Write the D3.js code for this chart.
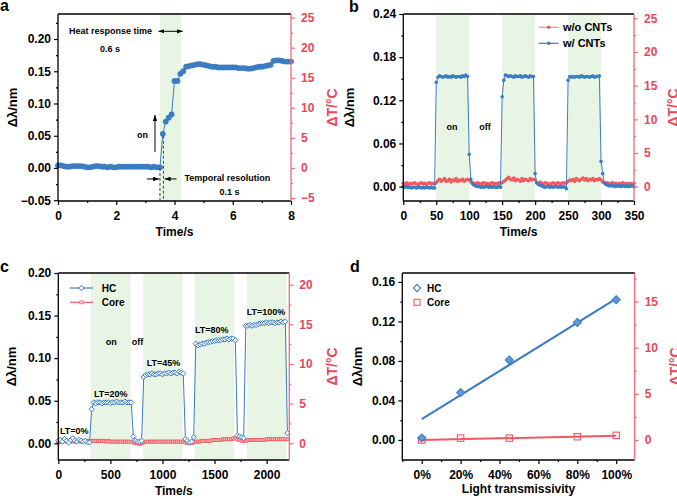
<!DOCTYPE html>
<html><head><meta charset="utf-8">
<script src="https://cdn.jsdelivr.net/npm/d3@7"></script>
<style>
body{margin:0;background:#fff;}
svg text{font-family:"Liberation Sans",Arial,Helvetica,sans-serif;font-weight:bold;}
</style></head><body>
<div id="chart"></div>
<script>
// ---- panel a : heat response, 0.1 s sampling
var aStep = 0.1;
var aShift = [0.004,0.004,0.003,0.002,0.002,0.003,0.003,0.003,0.003,0.002,
  0.001,0.001,0.002,0.003,0.003,0.002,0.002,0.001,0.002,0.001,
  0.001,0.002,0.002,0.002,0.002,0.002,0.002,0.002,0.002,0.002,
  0.002,0.002,0.001,0.002,0.001,0.001,
  0.053,0.072,0.078,0.083,0.135,0.135,0.146,0.150,0.157,0.158,
  0.159,0.160,0.161,0.161,0.160,0.159,0.158,0.157,0.157,0.156,
  0.156,0.156,0.156,0.156,0.156,0.156,0.155,0.155,0.155,0.154,
  0.154,0.155,0.156,0.157,0.157,0.158,0.159,0.160,0.166,0.167,
  0.167,0.166,0.165,0.165,0.165];
var aBand = [[3.5,4.22]];
var aXTicks = [0,2,4,6,8], aXMinor = [1,3,5,7];
var aYTicks = [-0.05,0,0.05,0.10,0.15,0.20], aYMinor = [-0.025,0.025,0.075,0.125,0.175,0.225];
var aRTicks = [-5,0,5,10,15,20,25], aRMinor = [-2.5,2.5,7.5,12.5,17.5,22.5];

// ---- panel b : on/off cycles, 2.5 s sampling
var bStep = 2.5;
var bWith = [0.000,-0.001,0.000,-0.001,-0.001,-0.002,-0.001,-0.001,-0.002,-0.001,
  -0.001,-0.002,-0.001,-0.002,-0.001,-0.001,-0.002,-0.001,-0.002,-0.002,
  0.145,0.152,
  0.154,0.153,0.152,0.153,0.154,0.152,0.153,0.152,0.154,0.153,0.152,0.153,0.153,0.152,0.154,0.153,0.155,0.153,
  0.045,0.010,0.004,0.002,
  0.001,0.000,0.000,-0.001,0.000,-0.001,0.000,0.000,-0.001,0.000,-0.001,0.000,-0.001,-0.001,0.000,-0.001,
  0.125,0.148,
  0.155,0.154,0.153,0.154,0.153,0.152,0.154,0.153,0.153,0.154,0.152,0.153,0.154,0.153,0.152,0.154,0.153,0.153,
  0.018,0.005,0.003,0.002,
  0.001,0.000,-0.001,0.000,0.000,-0.001,0.000,-0.001,0.000,0.000,-0.001,0.000,-0.001,0.000,-0.001,-0.003,
  0.148,0.153,
  0.152,0.153,0.152,0.153,0.153,0.152,0.154,0.153,0.152,0.153,0.153,0.152,0.153,0.154,0.152,0.153,0.153,0.154,
  0.035,0.018,0.005,0.003,
  0.002,0.001,0.002,0.001,0.001,0.000,0.001,0.001,0.000,0.001,0.001,0.000,0.001,0.000,0.001,0.001,0.000];
var bWithout = [0.5,0.4,0.6,0.3,0.5,0.4,0.5,0.6,0.4,0.3,0.5,0.6,0.4,0.5,0.3,0.5,0.6,0.4,0.5,0.4,
  0.6,0.9,1.1,0.8,1.0,1.2,0.8,0.9,1.1,0.7,1.0,0.9,1.2,0.8,1.0,0.9,1.1,0.8,1.0,1.1,
  1.0,0.7,0.6,0.5,0.4,0.6,0.5,0.4,0.5,0.6,0.4,0.5,0.3,0.5,0.6,0.4,0.5,0.4,0.6,0.5,
  0.6,0.8,1.0,1.2,1.4,1.1,1.0,1.3,0.9,1.1,1.0,0.8,1.2,0.9,1.1,1.0,0.9,1.2,1.0,1.1,
  1.0,0.6,0.5,0.7,0.5,0.4,0.6,0.5,0.4,0.3,0.5,0.6,0.4,0.5,0.6,0.4,0.5,0.6,0.5,0.6,
  0.8,1.0,0.9,1.1,0.8,1.2,1.0,0.9,1.1,1.3,1.0,1.2,0.9,1.1,1.0,1.2,0.9,1.1,1.0,1.2,
  1.0,0.7,0.6,0.5,0.6,0.4,0.5,0.6,0.4,0.5,0.3,0.5,0.4,0.6,0.5,0.4,0.5,0.3,0.5,0.4,0.5];
var bBands = [[50,100],[150,200],[250,300]];
var bXTicks = [0,50,100,150,200,250,300,350], bXMinor = [25,75,125,175,225,275,325];
var bYTicks = [0,0.06,0.12,0.18,0.24], bYMinor = [0.03,0.09,0.15,0.21];
var bRTicks = [0,5,10,15,20,25], bRMinor = [2.5,7.5,12.5,17.5,22.5];

// ---- panel c : light transmissivity steps, 20 s sampling
var cStep = 20;
var cHC = [0.003,0.004,0.002,0.005,0.003,0.001,0.004,0.006,0.003,0.002,0.004,0.003,0.002,0.003,0.001,0.001,
  0.040,
  0.048,0.047,0.048,0.048,0.047,0.048,0.048,0.048,0.047,0.048,0.048,0.049,0.048,0.048,0.048,0.049,0.048,0.048,
  0.048,
  0.008,0.003,0.002,0.002,0.003,
  0.078,
  0.080,0.081,0.081,0.082,0.081,0.081,0.082,0.082,0.081,0.082,0.082,0.083,0.082,0.083,0.083,0.082,0.084,0.083,
  0.082,
  0.005,0.003,0.001,0.002,
  0.007,
  0.117,
  0.115,0.116,0.117,0.117,0.118,0.119,0.119,0.120,0.120,0.121,0.121,0.121,0.122,0.122,0.123,0.122,0.123,0.123,
  0.121,
  0.009,0.008,0.007,0.006,
  0.138,
  0.138,0.139,0.138,0.139,0.139,0.140,0.141,0.141,0.141,0.142,0.141,0.142,0.142,0.141,0.142,0.142,0.143,0.142,
  0.143,
  0.012];
var cCore = [0.1,0.2,0.2,0.3,0.2,0.3,0.3,0.2,0.3,0.3,0.3,0.2,0.3,0.3,0.3,0.3,0.3,0.3,0.3,0.3,0.3,0.3,0.3,0.2,0.3,0.2,0.2,0.2,0.2,0.2,0.2,0.2,0.2,0.2,0.2,0.2,
  0.1,0.0,0.0,-0.1,0.0,
  0.1,0.2,0.2,0.2,0.2,0.2,0.2,0.2,0.2,0.2,0.2,0.2,0.2,0.2,0.2,0.2,0.2,0.2,0.2,0.2,
  0.1,0.0,0.0,0.0,0.1,
  0.2,0.2,0.2,0.3,0.3,0.3,0.3,0.3,0.4,0.4,0.4,0.4,0.4,0.5,0.5,0.5,0.5,0.5,0.6,0.6,
  0.5,0.4,0.3,0.3,0.3,
  0.4,0.4,0.4,0.4,0.4,0.4,0.4,0.4,0.4,0.5,0.5,0.5,0.5,0.5,0.5,0.5,0.5,0.5,0.5,0.5];
var cBands = [[310,695],[815,1195],[1310,1690],[1810,2190]];
var cLabels = ["LT=0%","LT=20%","LT=45%","LT=80%","LT=100%"];
var cLabelT = [16,343,849,1312,1809];
var cLabelV = [0.011,0.054,0.091,0.1295,0.151];
var cXTicks = [0,500,1000,1500,2000], cXMinor = [250,750,1250,1750];
var cYTicks = [0,0.05,0.10,0.15,0.20], cYMinor = [0.025,0.075,0.125,0.175];
var cRTicks = [0,5,10,15,20], cRMinor = [2.5,7.5,12.5,17.5];

// ---- panel d : response vs light transmissivity
var dLT = [0,20,45,80,100];
var dHC = [0.002,0.048,0.081,0.119,0.142];
var dCore = [0.0,0.2,0.2,0.35,0.5];
var dHCFit = [[0,0.021],[100,0.143]];
var dCoreFit = [[0,0.0],[100,0.45]];
var dXTicks = [0,20,40,60,80,100], dXMinor = [-10,10,30,50,70,90];
var dYTicks = [0,0.04,0.08,0.12,0.16], dYMinor = [0.02,0.06,0.10,0.14];
var dRTicks = [0,5,10,15], dRMinor = [2.5,7.5,12.5,17.5];

var blue = "#3b7dc2", red = "#ef5a60", redAxis = "#ef6b73", redText = "#e8475a", bandCol = "#e8f5e4";

var svg = d3.select("#chart").append("svg").attr("width", 677).attr("height", 499);
var defs = svg.append("defs");
defs.append("marker").attr("id", "arr").attr("viewBox", "0 0 8 6").attr("refX", 8).attr("refY", 3)
  .attr("markerWidth", 6).attr("markerHeight", 4.5).attr("markerUnits", "userSpaceOnUse")
  .attr("orient", "auto-start-reverse")
  .append("path").attr("d", "M0,0L8,3L0,6Z").attr("fill", "#000");

function panel(p) {
  var x = d3.scaleLinear().domain(p.xDom).range([p.left, p.right]);
  var yL = d3.scaleLinear().domain(p.yL).range([p.bottom, p.top]);
  var yR = d3.scaleLinear().domain(p.yR).range([p.bottom, p.top]);
  var g = svg.append("g");
  (p.bands || []).forEach(function (b) {
    g.append("rect").attr("x", x(b[0])).attr("y", p.top).attr("width", x(b[1]) - x(b[0]))
      .attr("height", p.bottom - p.top).attr("fill", bandCol);
  });
  return {x: x, yL: yL, yR: yR, g: g, p: p};
}

function styleAxis(sel, color) {
  sel.selectAll(".domain").remove();
  sel.selectAll("line").attr("stroke", color).attr("stroke-width", 1.2);
  sel.selectAll("text").attr("fill", color).style("font-size", "12px");
}

function axes(P) {
  var p = P.p, g = P.g;
  var b = g.append("g").attr("transform", "translate(0," + p.bottom + ")")
    .call(d3.axisBottom(P.x).tickValues(p.xTicks).tickFormat(p.xFmt).tickSize(4).tickPadding(6));
  styleAxis(b, "#000");
  var bm = g.append("g").attr("transform", "translate(0," + p.bottom + ")")
    .call(d3.axisBottom(P.x).tickValues(p.xMinor).tickFormat("").tickSize(2));
  styleAxis(bm, "#000");
  var l = g.append("g").attr("transform", "translate(" + p.left + ",0)")
    .call(d3.axisLeft(P.yL).tickValues(p.yTicks).tickFormat(d3.format(".2f")).tickSize(4).tickPadding(3));
  styleAxis(l, "#000");
  var lm = g.append("g").attr("transform", "translate(" + p.left + ",0)")
    .call(d3.axisLeft(P.yL).tickValues(p.yMinor).tickFormat("").tickSize(2));
  styleAxis(lm, "#000");
  var r = g.append("g").attr("transform", "translate(" + p.right + ",0)")
    .call(d3.axisRight(P.yR).tickValues(p.rTicks).tickFormat(d3.format("d")).tickSize(4).tickPadding(6));
  styleAxis(r, redAxis);
  r.selectAll("text").attr("fill", redText);
  var rm = g.append("g").attr("transform", "translate(" + p.right + ",0)")
    .call(d3.axisRight(P.yR).tickValues(p.rMinor).tickFormat("").tickSize(2));
  styleAxis(rm, redAxis);
  // frame
  g.append("line").attr("x1", p.left).attr("x2", p.right).attr("y1", p.top).attr("y2", p.top).attr("stroke", "#000").attr("stroke-width", 1.3);
  g.append("line").attr("x1", p.left).attr("x2", p.left).attr("y1", p.top).attr("y2", p.bottom).attr("stroke", "#000").attr("stroke-width", 1.3);
  g.append("line").attr("x1", p.left).attr("x2", p.right).attr("y1", p.bottom).attr("y2", p.bottom).attr("stroke", "#000").attr("stroke-width", 1.3);
  g.append("line").attr("x1", p.right).attr("x2", p.right).attr("y1", p.top).attr("y2", p.bottom).attr("stroke", redAxis).attr("stroke-width", 1.3);
  // titles
  var mid = (p.top + p.bottom) / 2;
  g.append("text").attr("x", (p.left + p.right) / 2).attr("y", p.bottom + p.xtY)
    .attr("text-anchor", "middle").style("font-size", "12px").text(p.xTitle);
  g.append("text").attr("transform", "translate(" + p.ltX + "," + mid + ") rotate(-90)")
    .attr("text-anchor", "middle").style("font-size", "13px").text("Δλ/nm");
  g.append("text").attr("transform", "translate(" + p.rtX + "," + mid + ") rotate(-90)")
    .attr("text-anchor", "middle").style("font-size", "14px").attr("fill", redText).text("ΔT/°C");
  svg.append("text").attr("x", p.tagX).attr("y", p.tagY).style("font-size", "16px").text(p.tag);
}

function note(P, t, v, txt, anchor) {
  P.g.append("text").attr("x", P.x(t)).attr("y", P.yL(v)).attr("text-anchor", anchor || "middle")
    .style("font-size", "9px").text(txt);
}
function arrow(P, t1, v1, t2, v2, both) {
  var ln = P.g.append("line").attr("x1", P.x(t1)).attr("y1", P.yL(v1)).attr("x2", P.x(t2)).attr("y2", P.yL(v2))
    .attr("stroke", "#000").attr("stroke-width", 1).attr("marker-end", "url(#arr)");
  if (both) ln.attr("marker-start", "url(#arr)");
}
function diamondPath(cx, cy, r) {
  return "M" + cx + "," + (cy - r) + "L" + (cx + r) + "," + cy + "L" + cx + "," + (cy + r) + "L" + (cx - r) + "," + cy + "Z";
}

// ================= panel a
var A = panel({left: 58, right: 291, top: 14, bottom: 201, xDom: [0, 8], yL: [-0.0512, 0.2388], yR: [-5.49, 25.6], bands: aBand});
var aData = aShift.map(function (v, i) { return {t: i * aStep, v: v}; });
A.g.append("path").datum(aData).attr("fill", "none").attr("stroke", blue).attr("stroke-width", 1)
  .attr("d", d3.line().x(function (d) { return A.x(d.t); }).y(function (d) { return A.yL(d.v); }));
A.g.selectAll(".da").data(aData).join("circle").attr("class", "da")
  .attr("cx", function (d) { return A.x(d.t); }).attr("cy", function (d) { return A.yL(d.v); })
  .attr("r", 2.9).attr("fill", blue);
[3.5, 3.62].forEach(function (t, i) {
  A.g.append("line").attr("x1", A.x(t)).attr("x2", A.x(t)).attr("y1", A.yL(i ? 0.05 : 0)).attr("y2", A.p.bottom)
    .attr("stroke", "#444").attr("stroke-width", 1).attr("stroke-dasharray", "3,2");
});
arrow(A, 3.33, 0.025, 3.33, 0.082);
arrow(A, 3.45, 0.212, 4.28, 0.212, true);
arrow(A, 3.05, -0.017, 3.47, -0.017);
arrow(A, 4.07, -0.017, 3.66, -0.017);
note(A, 0.38, 0.208, "Heat response time", "start");
note(A, 1.79, 0.180, "0.6 s");
note(A, 2.9, 0.046, "on");
note(A, 4.34, -0.020, "Temporal resolution", "start");
note(A, 5.89, -0.042, "0.1 s");

// ================= panel b
var B = panel({left: 403.3, right: 634, top: 14, bottom: 201, xDom: [0, 350], yL: [-0.02, 0.24], yR: [-2.12, 25.64], bands: bBands});
var bW = bWith.map(function (v, i) { return {t: i * bStep, v: v}; });
var bWo = bWithout.map(function (v, i) { return {t: i * bStep, v: v}; });
B.g.append("path").datum(bWo).attr("fill", "none").attr("stroke", red).attr("stroke-width", 1)
  .attr("d", d3.line().x(function (d) { return B.x(d.t); }).y(function (d) { return B.yR(d.v); }));
B.g.selectAll(".dbo").data(bWo).join("circle").attr("class", "dbo")
  .attr("cx", function (d) { return B.x(d.t); }).attr("cy", function (d) { return B.yR(d.v); })
  .attr("r", 1.8).attr("fill", red);
B.g.append("path").datum(bW).attr("fill", "none").attr("stroke", blue).attr("stroke-width", 1)
  .attr("d", d3.line().x(function (d) { return B.x(d.t); }).y(function (d) { return B.yL(d.v); }));
B.g.selectAll(".dbw").data(bW).join("circle").attr("class", "dbw")
  .attr("cx", function (d) { return B.x(d.t); }).attr("cy", function (d) { return B.yL(d.v); })
  .attr("r", 1.8).attr("fill", blue);
note(B, 74, 0.079, "on");
note(B, 124, 0.079, "off");
// legend b
[["w/o CNTs", "#f58d91", red, 27.3], ["w/ CNTs", blue, blue, 43.3]].forEach(function (it) {
  B.g.append("line").attr("x1", 538.7).attr("x2", 558.7).attr("y1", it[3]).attr("y2", it[3]).attr("stroke", it[1]).attr("stroke-width", 1.2);
  B.g.append("circle").attr("cx", 548.7).attr("cy", it[3]).attr("r", 1.8).attr("fill", it[2]);
  B.g.append("text").attr("x", 563).attr("y", it[3] + 4).style("font-size", "11px").text(it[0]);
});

// ================= panel c
var C = panel({left: 58.3, right: 289.3, top: 273, bottom: 460, xDom: [0, 2218], yL: [-0.0196, 0.20], yR: [-2.12, 21.48], bands: cBands});
var cH = cHC.map(function (v, i) { return {t: i * cStep, v: v}; });
var cC = cCore.map(function (v, i) { return {t: i * cStep, v: v}; });
C.g.append("path").datum(cC).attr("fill", "none").attr("stroke", red).attr("stroke-width", 2.4)
  .attr("d", d3.line().x(function (d) { return C.x(d.t); }).y(function (d) { return C.yR(d.v); }));
C.g.selectAll(".dcc").data(cC).join("rect").attr("class", "dcc")
  .attr("x", function (d) { return C.x(d.t) - 1.5; }).attr("y", function (d) { return C.yR(d.v) - 1.5; })
  .attr("width", 3).attr("height", 3).attr("fill", "#fbb").attr("stroke", red).attr("stroke-width", 0.8);
C.g.append("path").datum(cH).attr("fill", "none").attr("stroke", blue).attr("stroke-width", 1)
  .attr("d", d3.line().x(function (d) { return C.x(d.t); }).y(function (d) { return C.yL(d.v); }));
C.g.selectAll(".dch").data(cH).join("path").attr("class", "dch")
  .attr("d", function (d) { return diamondPath(C.x(d.t), C.yL(d.v), 2.6); })
  .attr("fill", "#fff").attr("stroke", blue).attr("stroke-width", 1);
note(C, 509, 0.1154, "on");
note(C, 760, 0.1154, "off");
cLabels.forEach(function (s, i) { note(C, cLabelT[i], cLabelV[i], s, "start"); });
// legend c
C.g.append("line").attr("x1", 70).attr("x2", 93).attr("y1", 288).attr("y2", 288).attr("stroke", blue).attr("stroke-width", 1.2);
C.g.append("path").attr("d", diamondPath(81.5, 288, 2.6)).attr("fill", "#fff").attr("stroke", blue);
C.g.append("text").attr("x", 101.7).attr("y", 292).style("font-size", "10px").text("HC");
C.g.append("line").attr("x1", 70).attr("x2", 93).attr("y1", 302.3).attr("y2", 302.3).attr("stroke", red).attr("stroke-width", 1.2);
C.g.append("rect").attr("x", 80).attr("y", 300.8).attr("width", 3).attr("height", 3).attr("fill", "#fff").attr("stroke", red).attr("stroke-width", 0.8);
C.g.append("text").attr("x", 101.7).attr("y", 306.3).style("font-size", "10px").text("Core");

// ================= panel d
var D = panel({left: 402.3, right: 634.7, top: 273, bottom: 460, xDom: [-10, 109.5], yL: [-0.0203, 0.169], yR: [-2.17, 18.1]});
var lineL = d3.line().x(function (d) { return D.x(d[0]); }).y(function (d) { return D.yL(d[1]); });
var lineR = d3.line().x(function (d) { return D.x(d[0]); }).y(function (d) { return D.yR(d[1]); });
D.g.append("path").datum(dHCFit).attr("d", lineL).attr("fill", "none").attr("stroke", blue).attr("stroke-width", 2);
D.g.append("path").datum(dCoreFit).attr("d", lineR).attr("fill", "none").attr("stroke", red).attr("stroke-width", 2);
D.g.selectAll(".ddc").data(dLT).join("rect").attr("class", "ddc")
  .attr("x", function (d) { return D.x(d) - 3.2; }).attr("y", function (d, i) { return D.yR(dCore[i]) - 3.2; })
  .attr("width", 6.4).attr("height", 6.4).attr("fill", "none").attr("stroke", red).attr("stroke-width", 1.1);
D.g.selectAll(".ddh").data(dLT).join("path").attr("class", "ddh")
  .attr("d", function (d, i) { return diamondPath(D.x(d), D.yL(dHC[i]), 4); })
  .attr("fill", "#5e9ad6").attr("stroke", blue).attr("stroke-width", 1.1);
D.g.append("path").attr("d", diamondPath(417, 288, 3.6)).attr("fill", "#fff").attr("stroke", blue).attr("stroke-width", 1.1);
D.g.append("text").attr("x", 427).attr("y", 292).style("font-size", "10px").text("HC");
D.g.append("rect").attr("x", 414).attr("y", 299.3).attr("width", 6).attr("height", 6).attr("fill", "#fff").attr("stroke", red).attr("stroke-width", 1.1);
D.g.append("text").attr("x", 427).attr("y", 306.3).style("font-size", "10px").text("Core");

Object.assign(A.p, {xTicks: aXTicks, xMinor: aXMinor, yTicks: aYTicks, yMinor: aYMinor, rTicks: aRTicks, rMinor: aRMinor,
  xFmt: d3.format("d"), xTitle: "Time/s", xtY: 35, ltX: 16.5, rtX: 336.5, tag: "a", tagX: 0, tagY: 11});
Object.assign(B.p, {xTicks: bXTicks, xMinor: bXMinor, yTicks: bYTicks, yMinor: bYMinor, rTicks: bRTicks, rMinor: bRMinor,
  xFmt: d3.format("d"), xTitle: "Time/s", xtY: 35, ltX: 353.5, rtX: 678, tag: "b", tagX: 349, tagY: 12});
Object.assign(C.p, {xTicks: cXTicks, xMinor: cXMinor, yTicks: cYTicks, yMinor: cYMinor, rTicks: cRTicks, rMinor: cRMinor,
  xFmt: d3.format("d"), xTitle: "Time/s", xtY: 35, ltX: 16, rtX: 336.5, tag: "c", tagX: 0, tagY: 272});
Object.assign(D.p, {xTicks: dXTicks, xMinor: dXMinor, yTicks: dYTicks, yMinor: dYMinor, rTicks: dRTicks, rMinor: dRMinor,
  xFmt: function (d) { return d + "%"; }, xTitle: "Light transmissivity", xtY: 33, ltX: 362, rtX: 680, tag: "d", tagX: 350, tagY: 272});

axes(A); axes(B); axes(C); axes(D);
</script>
</body></html>
